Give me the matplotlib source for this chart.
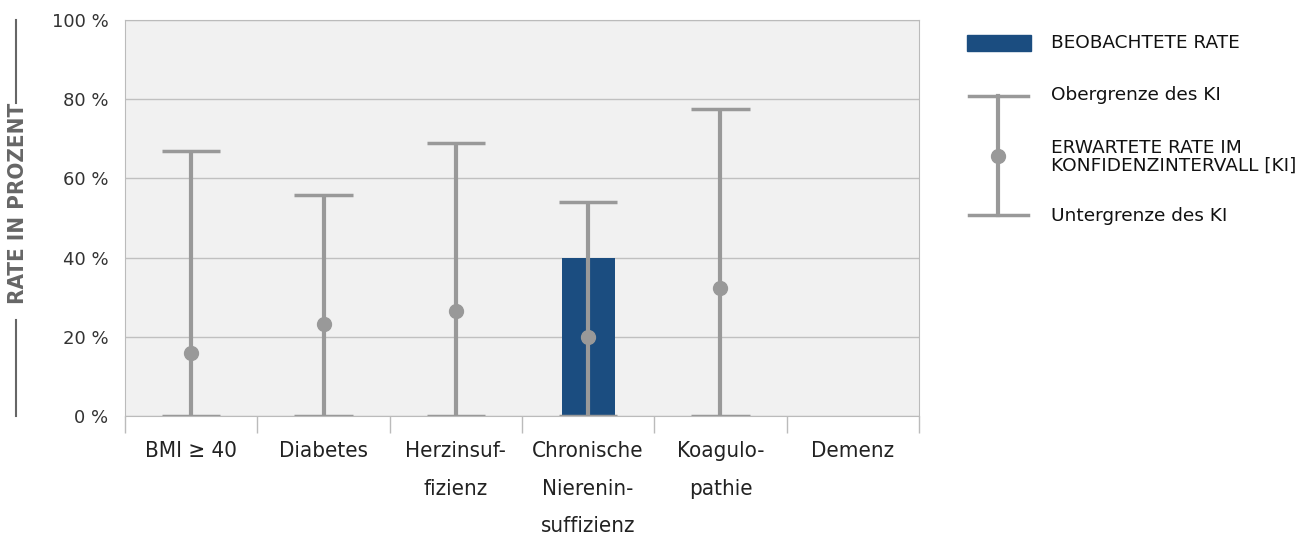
import numpy as np
import matplotlib.pyplot as plt
from matplotlib.lines import Line2D
from matplotlib.patches import Rectangle

categories = ["BMI \u2265 40", "Diabetes", "Herzinsuf-\nfizienz", "Chronische\nNierenin-\nsuffizienz",
              "Koagulo-\npathie", "Demenz"]
observed = [np.nan, np.nan, np.nan, 40.0, np.nan, np.nan]
expected = [16.0, 23.2, 26.5, 20.0, 32.3, np.nan]
ci_upper = [67.0, 55.8, 69.0, 54.0, 77.5, np.nan]
ci_lower = [0.0, 0.0, 0.0, 0.0, 0.0, np.nan]

gray = "#999999"
blue = "#1b4d80"
cond = dict(family="DejaVu Sans", stretch="condensed")
norm = dict(family="DejaVu Sans", stretch="normal")

fig = plt.figure(figsize=(13.09, 5.37), dpi=100)
ax = fig.add_axes([125/1309, 1-416/537, 794/1309, 396/537])
ax.set_facecolor("#f1f1f1")

x = np.arange(len(categories))
ax.bar(x, observed, width=0.4, color=blue, zorder=2)
for i in range(len(categories)):
    if np.isnan(expected[i]):
        continue
    ax.plot([x[i], x[i]], [ci_lower[i], ci_upper[i]], color=gray, lw=3, zorder=3, solid_capstyle="butt")
    for yv in (ci_lower[i], ci_upper[i]):
        ax.plot([x[i]-0.22, x[i]+0.22], [yv, yv], color=gray, lw=2.5, zorder=3, solid_capstyle="butt")
    ax.plot(x[i], expected[i], "o", color=gray, ms=10, zorder=4)

ax.set_xlim(-0.5, len(categories)-0.5)
ax.set_ylim(0, 100)
ax.set_yticks(range(0, 101, 20))
ax.set_yticklabels([f"{v} %" for v in range(0, 101, 20)], fontsize=13, color="#333333", **norm)
ax.yaxis.grid(True, color="#c0c0c0", lw=1, zorder=1)
ax.set_axisbelow(True)
ax.tick_params(axis="y", length=0, pad=12)

ax.set_xticks(x)
ax.set_xticklabels(categories, fontsize=16, color="#222222", linespacing=2.1, va="top", **cond)
ax.tick_params(axis="x", which="major", length=0, pad=18)
ax.set_xticks(np.arange(-0.5, len(categories)), minor=True)
ax.tick_params(axis="x", which="minor", length=12, color="#bbbbbb", width=1)
for s in ax.spines.values():
    s.set_color("#bbbbbb")

# y label with lines
fig.text(18/1309, 1-203/537, "RATE IN PROZENT", rotation=90, ha="center", va="center",
         fontsize=16, color="#666666", fontweight="semibold", **cond)
fig.add_artist(Line2D([16/1309, 16/1309], [1-20/537, 1-103/537], color="#666666", lw=1.5))
fig.add_artist(Line2D([16/1309, 16/1309], [1-320/537, 1-416/537], color="#666666", lw=1.5))

# legend
def fx(px):
    return px/1309
def fy(py):
    return 1-py/537
fig.add_artist(Rectangle((fx(967), fy(51)), fx(1031)-fx(967), fy(35)-fy(51), color=blue))
fig.add_artist(Line2D([fx(998), fx(998)], [fy(96), fy(215)], color=gray, lw=3))
fig.add_artist(Line2D([fx(969), fx(1028)], [fy(96), fy(96)], color=gray, lw=2.5))
fig.add_artist(Line2D([fx(969), fx(1028)], [fy(215), fy(215)], color=gray, lw=2.5))
fig.add_artist(Line2D([fx(998)], [fy(156)], marker="o", color=gray, ms=10))
lt = dict(fontsize=13.3, color="#111111", va="center", ha="left", **norm)
fig.text(fx(1051), fy(43), "BEOBACHTETE RATE", **lt)
fig.text(fx(1051), fy(95), "Obergrenze des KI", **lt)
fig.text(fx(1051), fy(157), "ERWARTETE RATE IM\nKONFIDENZINTERVALL [KI]", linespacing=1.0, **lt)
fig.text(fx(1051), fy(216), "Untergrenze des KI", **lt)

fig.savefig("out.png", dpi=100)
